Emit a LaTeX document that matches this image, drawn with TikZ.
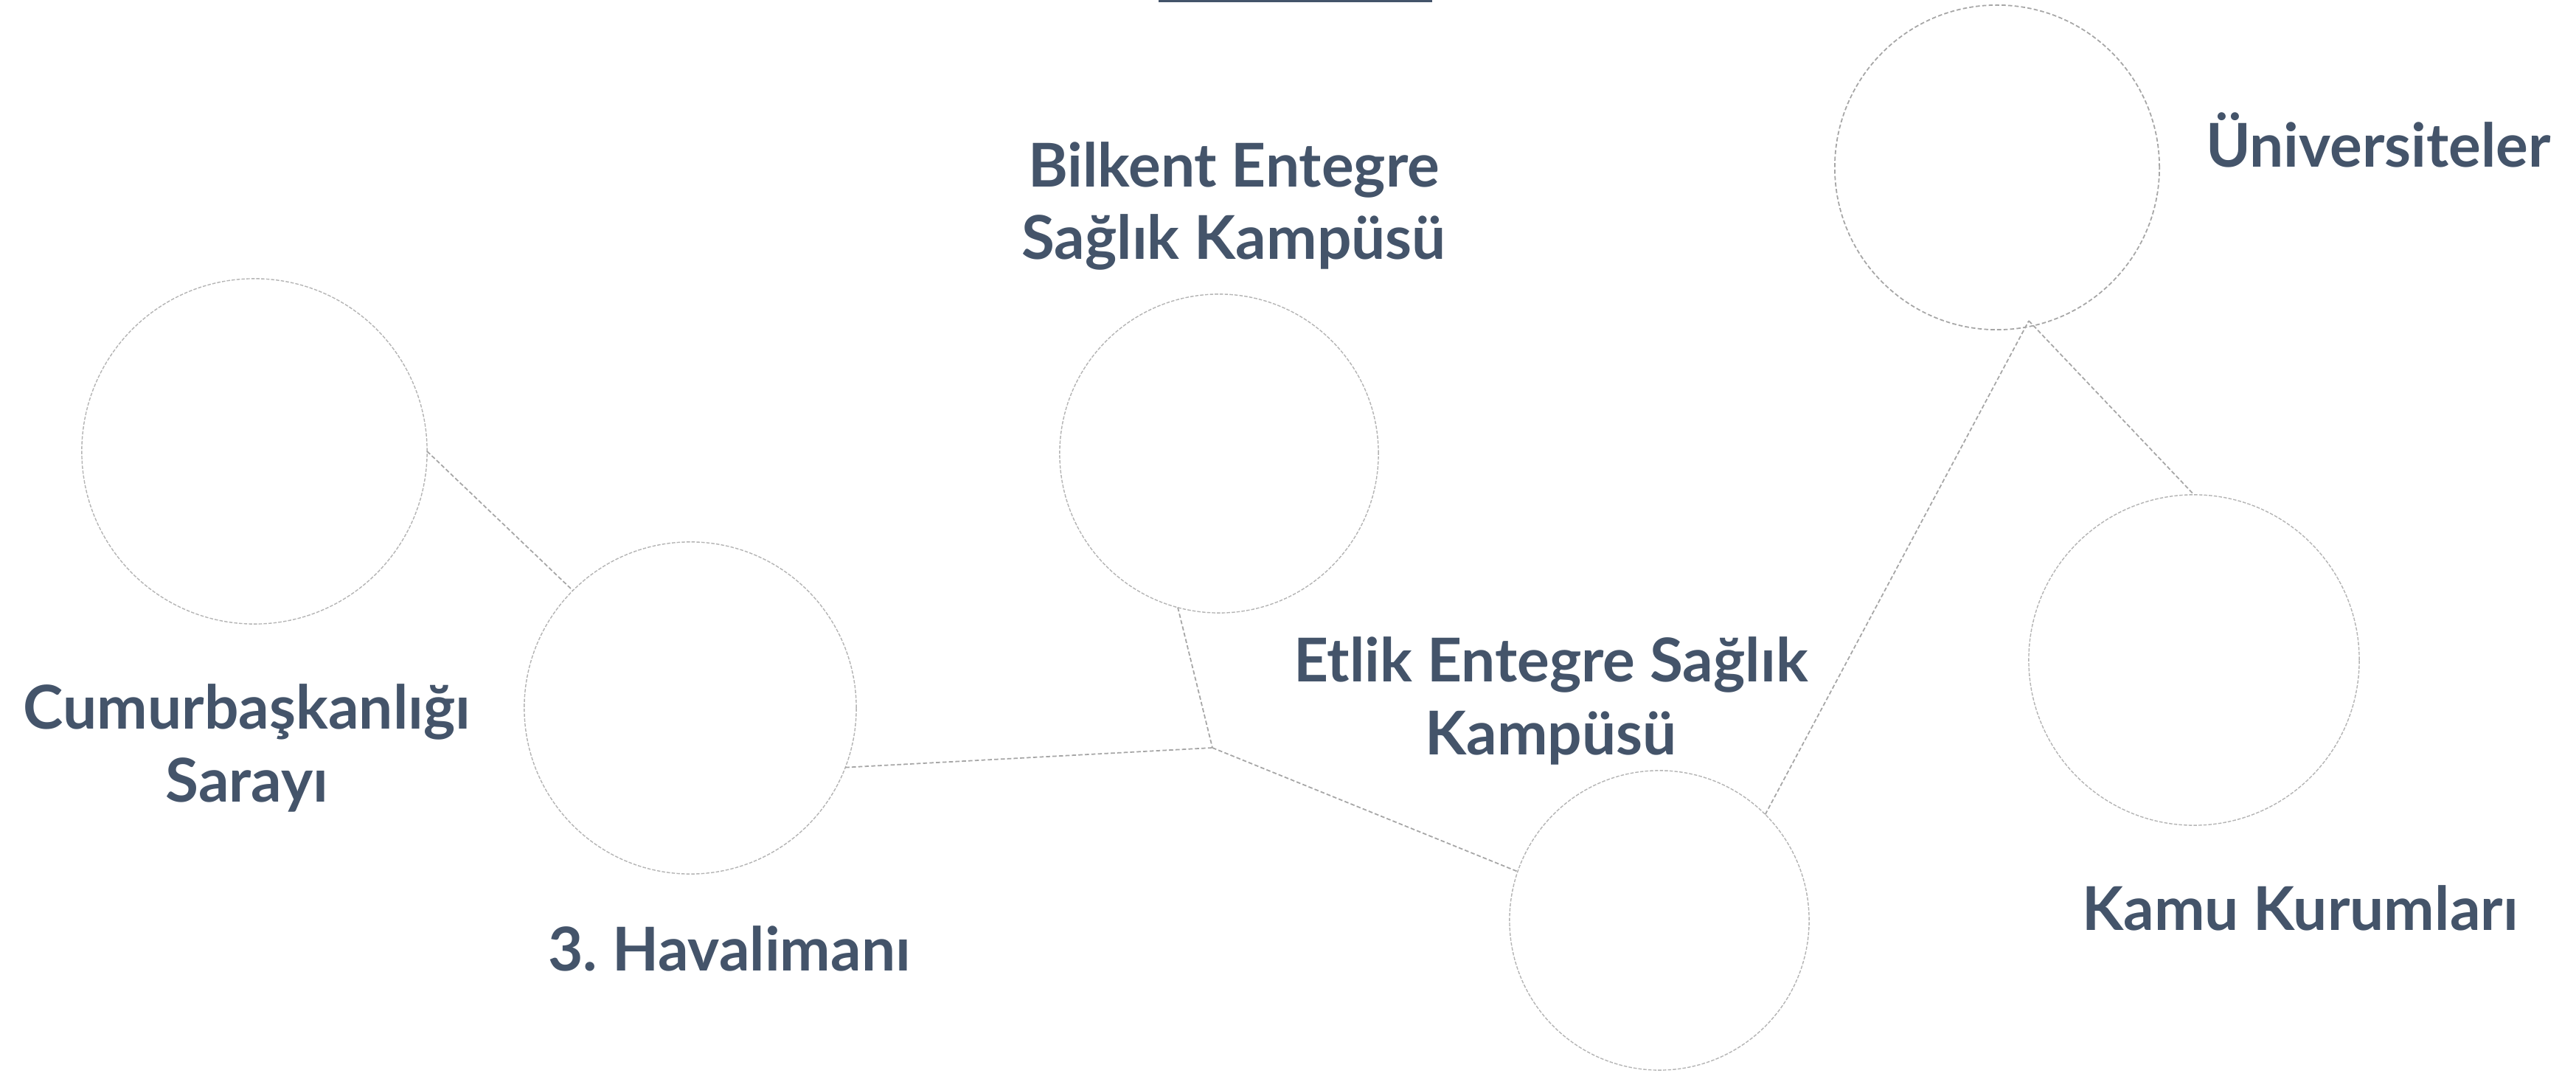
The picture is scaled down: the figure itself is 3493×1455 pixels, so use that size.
\documentclass[tikz,border=0pt]{standalone}
\usepackage{fontspec}
\usepackage{tikz}
\setmainfont{Lato}
\newfontfamily\labelfont{Lato}
\frenchspacing
\definecolor{slate}{HTML}{44546A}
\definecolor{ringgray}{HTML}{B4B4B4}
\definecolor{linkgray}{HTML}{A6A6A6}
\tikzset{
	ring/.style={draw=ringgray, circle, inner sep=0pt, outer sep=0pt, line width=0.4pt, dash pattern=on 1.3pt off 0.6pt},
	ringdark/.style={ring, draw=linkgray, line width=0.5pt, dash pattern=on 1.6pt off 0.9pt},
	link/.style={draw=linkgray, line width=0.5pt, dash pattern=on 1.6pt off 0.9pt},
	lbl/.style={text=slate, align=center, anchor=base, inner sep=0pt, font=\labelfont\bfseries\fontsize{23.3}{28}\selectfont}
}

\begin{document}
\begin{tikzpicture}[x=0.01cm,y=-0.01cm]
	\useasboundingbox (0,0) rectangle (3493,1455);
	\fill[slate] (1571,0) rectangle (1942,3.5);
	% circles
	\node[ring, minimum size=4.68cm] (saray) at (345,612) {};
	\node[ring, minimum size=4.50cm] (havalimani) at (936,960) {};
	\node[ring, minimum size=4.32cm] (bilkent) at (1653,615) {};
	\node[ring, minimum size=4.06cm] (etlik) at (2250,1248) {};
	\node[ringdark, minimum size=4.40cm] (univ) at (2708,227) {};
	\node[ring, minimum size=4.48cm] (kamu) at (2975,895) {};
	\coordinate (hub) at (1644,1014);
	\coordinate (fork) at (2751,435);
	% labels (base = last line)
	\node[lbl] (sarayLbl) at (335,1087) {Cumurbaşkanlığı\\Sarayı};
	\node[lbl] (havalimaniLbl) at (989,1316) {3. Havalimanı};
	\node[lbl] (bilkentLbl) at (1673,352) {Bilkent Entegre\\Sağlık Kampüsü};
	\node[lbl] (etlikLbl) at (2103,1023) {Etlik Entegre Sağlık\\Kampüsü};
	\node[lbl] (univLbl) at (3225,227) {Üniversiteler};
	\node[lbl] (kamuLbl) at (3119,1261) {Kamu Kurumları};
	% links
	\draw[link] (saray.0) -- (havalimani.135);
	\draw[link] (havalimani.-21) -- (hub);
	\draw[link] (bilkent.-105) -- (hub);
	\draw[link] (hub) -- (etlik.161);
	\draw[link] (etlik.45) -- (fork);
	\draw[link] (fork) -- (kamu.90);
\end{tikzpicture}
\end{document}
